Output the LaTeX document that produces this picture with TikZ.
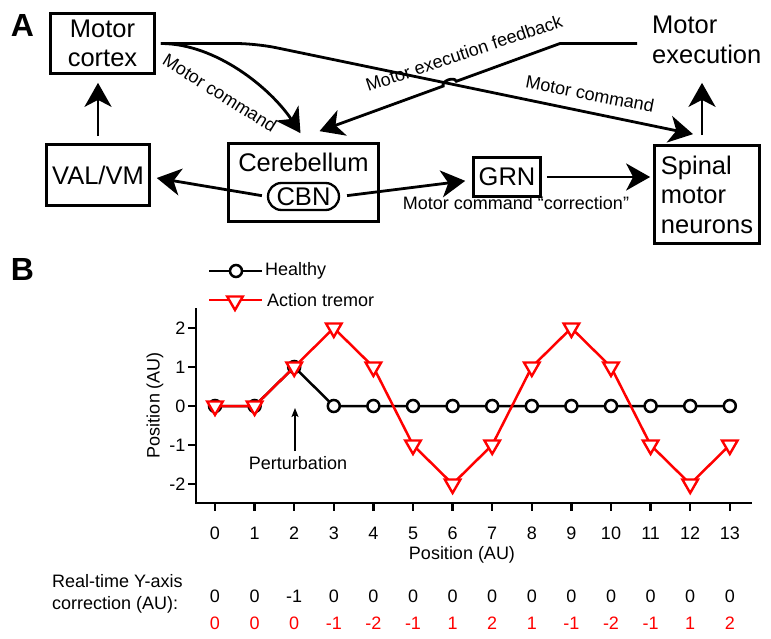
\documentclass[tikz,border=0pt]{standalone}
\usepackage{fontspec}
\setmainfont{Liberation Sans}
\usepackage{tikz}
\usetikzlibrary{calc,arrows.meta}
\usetikzlibrary{positioning,intersections}
\usetikzlibrary{shapes.misc,shapes.geometric}
\definecolor{tremor-red}{HTML}{FF0000}
\newcommand{\boxfnt}{\fontsize{25.5}{29.5}\selectfont}
\newcommand{\lblfnt}{\fontsize{18}{22}\selectfont}
\newcommand{\panelfnt}{\fontsize{32}{34}\selectfont\bfseries}
\tikzset{lbl/.style={font=\lblfnt, inner sep=0pt}}
\tikzset{panel/.style={font=\panelfnt, inner sep=0pt}}

\begin{document}
\begin{tikzpicture}[
    x=1pt, y=-1pt,
    >={Stealth[length=24pt,width=27pt,inset=7pt]}
  ]
  \useasboundingbox (0,0) rectangle (771,639);

  % Global styles
  \tikzset{
    box/.style={draw, line width=2.7pt, inner sep=0pt, align=center, font=\boxfnt},
    flow/.style={->, line width=2.8pt},
    axis/.style={line width=2.4pt},
    healthy/.style={draw=black, fill=white, circle, line width=2.5pt, minimum size=12pt, inner sep=0pt},
    tremor/.style={draw=tremor-red, fill=white, regular polygon, regular polygon sides=3, shape border rotate=180, line width=2.4pt, minimum size=18pt, inner sep=0pt},
    pertarrow/.style={-{Stealth[length=9pt,width=7pt,inset=2pt]}, line width=1.5pt}
  }

  % ---------------- Panel A ----------------
  \node (panA) [panel] at (22.5,25.5) {A};

  \node (cortex) [box, minimum width=104, minimum height=60] at (102.5,43.5) {Motor\\cortex};
  \node (valvm)  [box, minimum width=103, minimum height=61] at (98,175) {VAL/VM};
  \node (cereb)  [box, minimum width=150, minimum height=78] at (303.5,182.5) {};
  \node (cerebtxt) [font=\boxfnt, inner sep=0pt, anchor=base] at (303.5,172) {Cerebellum};
  \node (cbn)    [draw, rounded rectangle, line width=2.3pt, minimum width=71, minimum height=27, inner sep=0pt, font=\boxfnt] at (303.5,196.5) {CBN};
  \node (grn)    [box, minimum width=67, minimum height=39] at (507,177) {GRN};
  \node (spinal) [box, align=left, minimum width=105, minimum height=98] at (707,194.5) {Spinal\\motor\\neurons};
  \node (motexec) [font=\boxfnt, align=left, inner sep=0pt, anchor=west] at (652,40) {Motor\\execution};

  % straight connectors
  \draw[flow, shorten <=7pt, shorten >=8pt] (valvm.north) -- (valvm.north |- cortex.south);
  \draw[flow, shorten <=5pt, shorten >=6pt] (cbn.west) -- ([yshift=-2pt]valvm.east);
  \draw[flow, shorten <=7pt, shorten >=7pt] (cbn.east) -- ([yshift=-3pt]grn.west);
  \draw[flow, shorten <=5pt, shorten >=3pt] (grn.east) -- (spinal.west |- grn.east);
  \draw[flow, shorten <=9pt, shorten >=19pt] ([xshift=-5pt]spinal.north) -- ([xshift=-5pt]spinal.north |- motexec.south);

  % motor command paths
  \draw[flow, shorten <=5pt] (cortex.east) .. controls +(60,0) and +(-30,-45) .. ([xshift=-3pt,yshift=9pt]cereb.north);
  \draw[flow, shorten <=5pt, rounded corners=20pt, name path=cmdpath]
    (cortex.east) -- ++(100,0) -- ([xshift=-14pt,yshift=10pt]spinal.north);

  % feedback with a hop over the command line
  \coordinate (fbturn) at (560,43.5);
  \coordinate (fbend) at ([xshift=16pt,yshift=11pt]cereb.north);
  \path[name path=fbpath] (fbturn) -- (fbend);
  \path[name intersections={of=cmdpath and fbpath, by=hop}];
  \coordinate (hopin) at ($(hop)!7pt!(fbturn)$);
  \coordinate (hopout) at ($(hop)!7pt!(fbend)$);
  \draw[flow, shorten <=15pt] (motexec.west |- fbturn) -- (fbturn) -- (hopin) to[bend right=90] (hopout) -- (fbend);

  % labels on the connectors
  \node (cmdlbl)  [lbl, rotate=-32] at (220,93) {Motor command};
  \node (cmdlbl2) [lbl, rotate=-11] at (590,94) {Motor command};
  \node (fblbl)   [lbl, rotate=18.5] at (464,53) {Motor execution feedback};
  \node (corrlbl) [lbl] at (516,203) {Motor command “correction”};

  % ---------------- Panel B ----------------
  \node (panB) [panel] at (22.5,269) {B};

  % axes
  \draw[axis] (196,308) -- (196,503) -- (752,503);
  \foreach \v in {-2,...,2} {
    \draw[axis] (188,{406-39*\v}) -- (196,{406-39*\v});
    \node[lbl, anchor=east] at (185.5,{406-39*\v}) {\v};
  }
  \foreach \i in {0,...,13} {
    \draw[axis] ({215+39.6*\i},503) -- ({215+39.6*\i},511);
    \node[lbl, anchor=base] at ({215+39.6*\i},539) {\i};
  }
  \node (xlbl) [lbl] at (462,555) {Position (AU)};
  \node (ylbl) [lbl, rotate=90] at (155,405) {Position (AU)};

  % data
  \begin{scope}[shift={(215,406)}, x=39.6pt, y=39pt]
    \draw[line width=2.5pt] plot coordinates {(0,0) (1,0) (2,1) (3,0) (4,0) (5,0) (6,0) (7,0) (8,0) (9,0) (10,0) (11,0) (12,0) (13,0)};
    \foreach \x/\y in {0/0,1/0,2/1,3/0,4/0,5/0,6/0,7/0,8/0,9/0,10/0,11/0,12/0,13/0}
      \node[healthy] at (\x,\y) {};
    \draw[tremor-red, line width=2.5pt] plot coordinates {(0,0) (1,0) (2,1) (3,2) (4,1) (5,-1) (6,-2) (7,-1) (8,1) (9,2) (10,1) (11,-1) (12,-2) (13,-1)};
    \foreach \x/\y in {0/0,1/0,2/1,3/2,4/1,5/-1,6/-2,7/-1,8/1,9/2,10/1,11/-1,12/-2,13/-1}
      \node[tremor] at (\x,\y) {};
  \end{scope}

  % legend
  \draw[line width=2.5pt] (209,271) -- (262,271);
  \node (legH) [healthy] at (236,271) {};
  \node (legHtxt) [lbl, anchor=west] at (265,271) {Healthy};
  \draw[tremor-red, line width=2.5pt] (209,300) -- (262,300);
  \node (legT) [tremor] at (235,301) {};
  \node (legTtxt) [lbl, anchor=west] at (267,300) {Action tremor};

  % perturbation marker
  \node (pert) [lbl] at (298,463) {Perturbation};
  \coordinate (perttip) at (295,408);
  \draw[pertarrow, shorten <=5pt] (pert.north -| perttip) -- (perttip);

  % correction table
  \node (corrhdr) [lbl, align=left, anchor=west] at (52,594) {Real-time Y-axis\\correction (AU):};
  \foreach \v [count=\i from 0] in {0,0,-1,0,0,0,0,0,0,0,0,0,0,0}
    \node[lbl, anchor=base] at ({215+39.6*\i},602) {\v};
  \foreach \v [count=\i from 0] in {0,0,0,-1,-2,-1,1,2,1,-1,-2,-1,1,2}
    \node[lbl, anchor=base, text=tremor-red] at ({215+39.6*\i},629) {\v};

\end{tikzpicture}
\end{document}
